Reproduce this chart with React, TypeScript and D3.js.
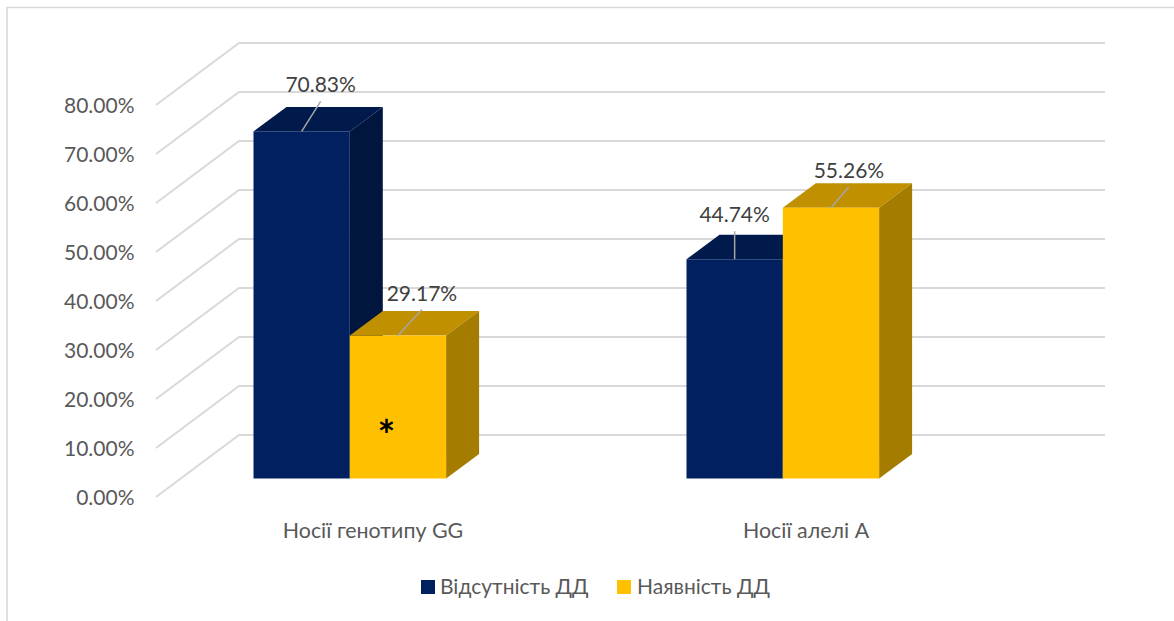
import React from "react";
import * as d3 from "d3";

const categories = ["Носії генотипу GG", "Носії алелі А"];
const seriesNames = ["Відсутність ДД", "Наявність ДД"];
const absentValues = [70.83, 44.74];
const presentValues = [29.17, 55.26];
const yTicks = [0, 10, 20, 30, 40, 50, 60, 70, 80];

const faceColors = ["#002060", "#FFC000"];
const topColors = ["#001a4c", "#C09000"];
const sideColors = ["#00163f", "#A47D00"];

const fontFamily = "Lato, 'Open Sans', sans-serif";
const width = 1174;
const height = 621;

// Wall plane of the 3D plot, and how the floor recedes towards it.
const wallLeft = 239;
const wallRight = 1105;
const floorDx = -83;
const floorDy = 62;
const yWall = d3.scaleLinear().domain([0, 80]).range([435, 43]);

// Front plane of the bars.
const barBase = 478.5;
const barDepthX = 33;
const barDepthY = -24.5;
const yBar = d3.scaleLinear().domain([0, 80]).range([barBase, barBase - 392]);

const xGroup = d3.scaleBand<string>().domain(categories).range([253.5, 1119.5]);
const xSeries = d3.scaleBand<string>().domain(seriesNames).range([0, 192.6]);
const barWidth = xSeries.bandwidth();

// Data-label leader lines: end of the line relative to the bar's top centre.
const leaderOffsets = [
  [[19, -30], [24, -26]],
  [[0, -28], [18, -21]],
];

const poly = (pts: number[][]) => pts.map((p) => p.join(",")).join(" ");

export default function App() {
  const series = [absentValues, presentValues];
  return (
    <svg
      width={width}
      height={height}
      style={{ position: "absolute", left: 0, top: 0, background: "#fff" }}
      fontFamily={fontFamily}
    >
      <path d="M7 621V7.5H1174" fill="none" stroke="#d9d9d9" strokeWidth={1.6} />

      {yTicks.map((t) => (
        <g key={t}>
          <polyline
            points={poly([
              [wallLeft + floorDx, yWall(t) + floorDy],
              [wallLeft, yWall(t)],
              [wallRight, yWall(t)],
            ])}
            fill="none"
            stroke="#d9d9d9"
            strokeWidth={2}
          />
          <text x={134.5} y={yWall(t) + floorDy + 8} textAnchor="end" fontSize={21} fill="#595959">
            {t.toFixed(2)}%
          </text>
        </g>
      ))}

      {categories.map((cat, c) => (
        <g key={cat}>
          {series.map((vals, s) => {
            const x0 = (xGroup(cat) as number) + (xSeries(seriesNames[s]) as number);
            const x1 = x0 + barWidth;
            const yTop = yBar(vals[c]);
            return (
              <g key={s}>
                <polygon
                  points={poly([
                    [x0, yTop],
                    [x0 + barDepthX, yTop + barDepthY],
                    [x1 + barDepthX, yTop + barDepthY],
                    [x1, yTop],
                  ])}
                  fill={topColors[s]}
                />
                <polygon
                  points={poly([
                    [x1, yTop],
                    [x1 + barDepthX, yTop + barDepthY],
                    [x1 + barDepthX, barBase + barDepthY],
                    [x1, barBase],
                  ])}
                  fill={sideColors[s]}
                />
                <rect x={x0} y={yTop} width={barWidth} height={barBase - yTop} fill={faceColors[s]} />
              </g>
            );
          })}
          <text x={(xGroup(cat) as number) + 119.5} y={538} textAnchor="middle" fontSize={21.4} fill="#595959">
            {cat}
          </text>
        </g>
      ))}

      {/* Data labels go on top so the second bar of a group never covers them. */}
      {categories.map((cat, c) =>
        series.map((vals, s) => {
          const xMid = (xGroup(cat) as number) + (xSeries(seriesNames[s]) as number) + barWidth / 2;
          const yTop = yBar(vals[c]);
          const [dx, dy] = leaderOffsets[c][s];
          return (
            <g key={cat + s}>
              <line x1={xMid} y1={yTop} x2={xMid + dx} y2={yTop + dy} stroke="#a6a6a6" strokeWidth={1.5} />
              <text x={xMid + dx} y={yTop + dy - 9} textAnchor="middle" fontSize={21} fill="#404040">
                {vals[c].toFixed(2)}%
              </text>
            </g>
          );
        })
      )}

      <text x={386.5} y={451} textAnchor="middle" fontSize={42} fontWeight={700} fill="#000">
        *
      </text>

      <rect x={421} y={580} width={14} height={14} fill={faceColors[0]} />
      <text x={440} y={594} fontSize={21} fill="#595959">{seriesNames[0]}</text>
      <rect x={617} y={580} width={14} height={14} fill={faceColors[1]} />
      <text x={637} y={594} fontSize={21} fill="#595959">{seriesNames[1]}</text>
    </svg>
  );
}
